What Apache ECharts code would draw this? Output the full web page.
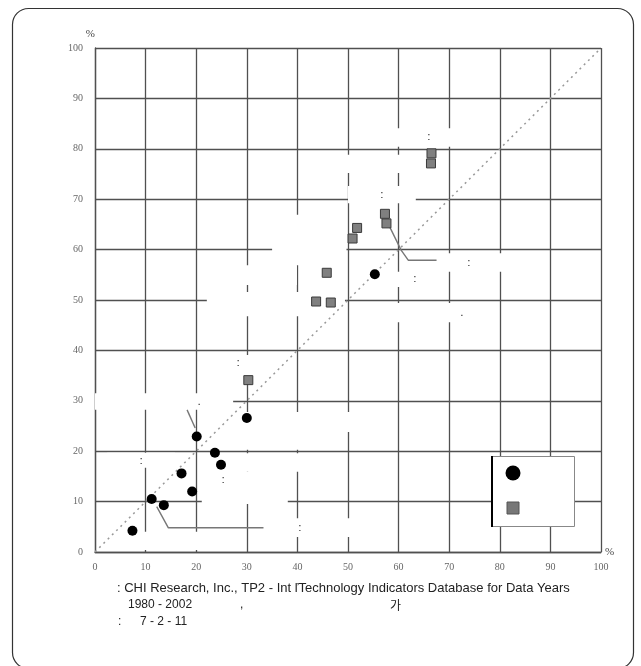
<!DOCTYPE html>
<html>
<head>
<meta charset="utf-8">
<script src="https://cdn.jsdelivr.net/npm/echarts@6/dist/echarts.min.js"></script>
<style>
html,body{margin:0;padding:0;background:#fff;}
#chart{width:641px;height:666px;}
</style>
</head>
<body>
<div id="chart"></div>
<script>
// ---- data ----
const circleX = [7.4, 11.2, 13.6, 17.1, 19.2, 20.1, 23.7, 24.9, 30.0, 55.3];
const circleY = [4.2, 10.5, 9.3, 15.6, 12.0, 22.9, 19.7, 17.3, 26.6, 55.1];
const squareX = [30.3, 43.7, 46.6, 45.8, 50.9, 51.8, 57.6, 57.3, 66.4, 66.5];
const squareY = [34.1, 49.7, 49.5, 55.4, 62.2, 64.3, 65.2, 67.1, 77.1, 79.1];
const axisMin = 0, axisMax = 100, axisStep = 10;
const diagonal = [[0, 0], [100, 100]];

// leader lines of the (lost) annotation labels, in data units
const leader1 = [[58.0, 65.0], [60.5, 59.9], [61.9, 57.9], [67.5, 57.9]];
const leader2 = [[18.2, 28.2], [19.8, 24.6]];
const leader3 = [[12.2, 9.0], [14.5, 4.8], [33.3, 4.8]];

// white label backgrounds of the lost annotation texts [x1, y1, x2, y2] in data units
const labelBoxes = [
  [59.3, 80.4, 77.5, 84.1],
  [47.4, 75.2, 63.0, 78.8],
  [50.0, 69.2, 63.4, 72.6],
  [35.0, 56.9, 49.7, 66.9],
  [29.8, 53.0, 39.9, 56.9],
  [22.1, 46.8, 49.4, 51.6],
  [67.6, 55.6, 82.0, 59.3],
  [57.9, 52.6, 69.2, 55.6],
  [50.4, 45.6, 79.4, 49.4],
  [22.3, 34.5, 34.2, 39.1],
  [-1.0, 28.2, 27.3, 31.5],
  [29.0, 23.8, 50.8, 27.8],
  [25.3, 20.3, 44.9, 23.8],
  [27.3, 15.9, 44.5, 19.6],
  [21.1, 9.5, 38.1, 15.9],
  [2.4, 16.7, 15.8, 19.7],
  [8.9, 0.4, 26.1, 4.0],
  [39.5, 3.0, 50.9, 6.7]
];
// remaining punctuation of the annotation texts [x, y, text] in data units
const labelMarks = [
  [66.0, 82.2, ':'], [56.7, 70.7, ':'], [73.9, 57.3, ':'], [63.2, 54.2, ':'],
  [72.5, 47.4, '.'], [28.3, 37.5, ':'], [20.6, 29.8, '.'], [9.1, 18.0, ':'],
  [25.3, 14.3, ':'], [40.5, 4.8, ':']
];

const footLines = [
  ': CHI Research, Inc., TP2 - Int ľTechnology Indicators Database for Data Years',
  '1980 - 2002', ',', '가',
  ':', '7 - 2 - 11'
];

const circleData = circleX.map((x, i) => [x, circleY[i]]);
const squareData = squareX.map((x, i) => [x, squareY[i]]);

const chart = echarts.init(document.getElementById('chart'), null, {renderer: 'canvas'});

const gridLine = {color: '#505050', width: 1.3};
const axisCommon = {
  type: 'value', min: axisMin, max: axisMax, interval: axisStep,
  axisLine: {show: true, lineStyle: gridLine},
  axisTick: {show: false},
  splitLine: {show: true, lineStyle: gridLine},
  axisLabel: {color: '#666', fontSize: 10, fontFamily: 'Liberation Serif'},
  nameTextStyle: {color: '#444', fontSize: 11, fontFamily: 'Liberation Serif'}
};

const leaderSeries = [leader1, leader2, leader3].map(d => ({
  type: 'line', data: d, symbol: 'none', silent: true, z: 3,
  lineStyle: {color: '#777', width: 1.4}, animation: false
}));

chart.setOption({
  animation: false,
  backgroundColor: '#fff',
  grid: {left: 95, right: 40, top: 48, bottom: 114, containLabel: false},
  xAxis: Object.assign({}, axisCommon, {
    name: '%', nameLocation: 'end', nameGap: 4,
    nameTextStyle: Object.assign({}, axisCommon.nameTextStyle, {verticalAlign: 'middle', padding: [4, 0, 0, 0]}),
    axisLabel: Object.assign({}, axisCommon.axisLabel, {margin: 10})
  }),
  yAxis: Object.assign({}, axisCommon, {
    name: '%', nameLocation: 'end', nameGap: 8,
    nameTextStyle: Object.assign({}, axisCommon.nameTextStyle, {align: 'right', padding: [0, 0, 0, 0]}),
    axisLabel: Object.assign({}, axisCommon.axisLabel, {margin: 12})
  }),
  series: [
    {
      type: 'scatter', data: [], silent: true, z: 1, clip: false,
      markArea: {
        silent: true,
        itemStyle: {color: '#fff', opacity: 1, borderWidth: 0},
        label: {show: false},
        data: labelBoxes.map(b => [{coord: [b[0], b[1]]}, {coord: [b[2], b[3]]}])
      },
      markPoint: {
        silent: true, symbol: 'circle', symbolSize: 0,
        label: {show: true, position: 'inside', color: '#000', fontSize: 10,
                fontFamily: 'Liberation Sans', formatter: p => p.data.value},
        data: labelMarks.map(m => ({coord: [m[0], m[1]], value: m[2]}))
      }
    },
    {
      type: 'line', data: diagonal, symbol: 'none', silent: true, z: 2,
      lineStyle: {color: '#999', width: 1.5, type: [2, 4]}
    }
  ].concat(leaderSeries).concat([
    {
      type: 'scatter', data: circleData, symbol: 'circle', symbolSize: 10, z: 5,
      itemStyle: {color: '#000', opacity: 1}
    },
    {
      type: 'scatter', data: squareData, symbol: 'rect', symbolSize: 9, z: 5,
      itemStyle: {color: '#808080', borderColor: '#3a3a3a', borderWidth: 1, opacity: 1}
    }
  ]),
  graphic: [
    {type: 'rect', silent: true, z: 100,
     shape: {x: 12.5, y: 8.5, width: 621, height: 660, r: 16},
     style: {fill: null, stroke: '#333', lineWidth: 1.2}},
    // legend box (its texts are lost in the reference)
    {type: 'rect', silent: true, z: 100,
     shape: {x: 491.5, y: 456.5, width: 83, height: 70},
     style: {fill: '#fff', stroke: '#888', lineWidth: 1}},
    {type: 'line', silent: true, z: 101,
     shape: {x1: 492, y1: 456, x2: 492, y2: 527},
     style: {stroke: '#000', lineWidth: 2}},
    {type: 'circle', silent: true, z: 101,
     shape: {cx: 513, cy: 473, r: 7.5}, style: {fill: '#000'}},
    {type: 'rect', silent: true, z: 101,
     shape: {x: 507, y: 502, width: 12, height: 12},
     style: {fill: '#777', stroke: '#555', lineWidth: 1}},
    // source notes
    {type: 'text', silent: true, z: 100, left: 117, top: 582,
     style: {text: footLines[0], fontSize: 13, fontFamily: 'Liberation Sans', fill: '#222'}},
    {type: 'text', silent: true, z: 100, left: 128, top: 599,
     style: {text: footLines[1], fontSize: 12, fontFamily: 'Liberation Sans', fill: '#222'}},
    {type: 'text', silent: true, z: 100, left: 240, top: 599,
     style: {text: footLines[2], fontSize: 12, fontFamily: 'Liberation Sans', fill: '#222'}},
    {type: 'text', silent: true, z: 100, left: 390, top: 599,
     style: {text: footLines[3], fontSize: 12, fontFamily: 'Noto Sans CJK KR', fill: '#222'}},
    {type: 'text', silent: true, z: 100, left: 118, top: 616,
     style: {text: footLines[4], fontSize: 12, fontFamily: 'Liberation Sans', fill: '#222'}},
    {type: 'text', silent: true, z: 100, left: 140, top: 616,
     style: {text: footLines[5], fontSize: 12, fontFamily: 'Liberation Sans', fill: '#222'}}
  ]
});
</script>
</body>
</html>
